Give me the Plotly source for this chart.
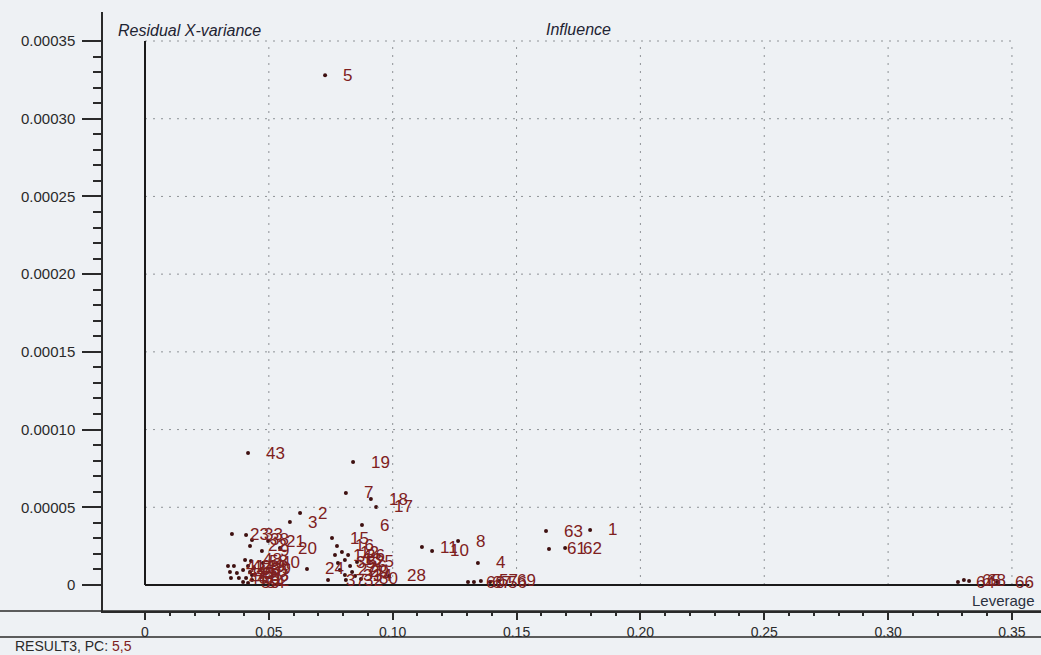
import plotly.graph_objects as go

# Influence plot: leverage vs. residual X-variance per sample (RESULT3, PC 5,5)
samples = ["5", "43", "19", "7", "18", "17", "6", "2", "3", "63", "1", "61", "62",
           "11", "10", "8", "4", "60", "67", "57", "56", "69",
           "24", "37", "32", "30", "28",
           "23", "33", "38", "22", "21", "20", "9", "40",
           "41", "42", "44", "45", "46", "47", "48", "49", "50", "51", "52", "53",
           "54", "55", "58", "59", "39",
           "15", "16", "12", "13", "25", "26", "27", "29", "31", "34", "35", "36", "14",
           "64", "65", "68", "66"]

leverage = [0.0727, 0.0416, 0.0840, 0.0811, 0.0912, 0.0933, 0.0876, 0.0626, 0.0585,
            0.1619, 0.1797, 0.1631, 0.1696,
            0.1118, 0.1159, 0.1264, 0.1344, 0.1304, 0.1328, 0.1356, 0.1393, 0.1429,
            0.0654, 0.0739, 0.0811, 0.0872, 0.0985,
            0.0351, 0.0408, 0.0432, 0.0424, 0.0497, 0.0545, 0.0472, 0.0476,
            0.0335, 0.0359, 0.0343, 0.0371, 0.0347, 0.0379, 0.0404, 0.0416, 0.0424,
            0.0408, 0.0432, 0.0432, 0.0416, 0.0396, 0.0428, 0.0396, 0.0440,
            0.0755, 0.0775, 0.0795, 0.0807, 0.0856, 0.0828, 0.0787, 0.0836, 0.0807,
            0.0848, 0.0779, 0.0820, 0.0767,
            0.3282, 0.3306, 0.3327, 0.3440]

residual_x_var = [0.000328, 0.0000849, 0.0000791, 0.0000592, 0.0000553, 0.0000502,
                  0.0000386, 0.0000463, 0.0000405, 0.0000347, 0.0000354, 0.0000232,
                  0.0000238,
                  0.0000244, 0.0000219, 0.0000283, 0.0000142, 0.0000019, 0.0000019,
                  0.0000026, 0.0000019, 0.0000026,
                  0.0000103, 0.0000032, 0.0000032, 0.0000039, 0.0000058,
                  0.0000328, 0.0000322, 0.0000290, 0.0000251, 0.0000283, 0.0000238,
                  0.0000219, 0.0000142,
                  0.0000122, 0.0000122, 0.0000084, 0.0000077, 0.0000045, 0.0000045,
                  0.0000161, 0.0000122, 0.0000084, 0.0000045, 0.0000032, 0.0000064,
                  0.0000013, 0.0000097, 0.0000154, 0.0000019, 0.0000109,
                  0.0000302, 0.0000251, 0.0000212, 0.0000161, 0.0000148, 0.0000122,
                  0.0000097, 0.0000084, 0.0000064, 0.0000058, 0.0000142, 0.0000193,
                  0.0000193,
                  0.0000019, 0.0000032, 0.0000026, 0.0000019]

x_ticks = [0, 0.05, 0.10, 0.15, 0.20, 0.25, 0.30, 0.35]
x_tick_text = ["0", "0.05", "0.10", "0.15", "0.20", "0.25", "0.30", "0.35"]
y_ticks = [0, 0.00005, 0.00010, 0.00015, 0.00020, 0.00025, 0.00030, 0.00035]
y_tick_text = ["0", "0.00005", "0.00010", "0.00015", "0.00020", "0.00025",
               "0.00030", "0.00035"]

BG = "#eef1f4"
INK = "#2a2a2a"
POINT = "#3e1010"
LABEL = "#7e2020"
FONT = "Liberation Sans, Arial, sans-serif"

W, H = 1041, 655
ML, MR, MT, MB = 103, 0, 12, 44
PW, PH = W - ML - MR, H - MT - MB

x_min, x_max = -0.016956, 0.36173
y_min, y_max = -0.00001673, 0.00036866

x_minor = [round(i * 0.01, 2) for i in range(1, 36) if i % 5]
y_minor = [round(i * 0.00001, 6) for i in range(1, 36) if i % 5]

fig = go.Figure()
fig.add_trace(go.Scatter(
    x=leverage, y=residual_x_var, mode="markers",
    marker=dict(size=4, color=POINT, line=dict(width=0)),
    hoverinfo="skip", showlegend=False,
))

annotations = []
for xv, yv, name in zip(leverage, residual_x_var, samples):
    annotations.append(dict(
        x=xv, y=yv, xref="x", yref="y", text=name, showarrow=False,
        xanchor="left", yanchor="middle", xshift=16,
        font=dict(family=FONT, size=17, color=LABEL),
    ))


def px_x(p):
    return (p - ML) / PW


def px_y(p):
    return (H - MB - p) / PH


annotations += [
    dict(x=px_x(116), y=px_y(31), xref="paper", yref="paper",
         text="<i>Residual X-variance</i>", showarrow=False,
         xanchor="left", yanchor="middle",
         font=dict(family=FONT, size=16, color="#1e2433")),
    dict(x=px_x(578), y=px_y(29), xref="paper", yref="paper",
         text="<i>Influence</i>", showarrow=False,
         xanchor="center", yanchor="middle",
         font=dict(family=FONT, size=16, color="#1e2433")),
    dict(x=px_x(1037), y=px_y(600), xref="paper", yref="paper",
         text="Leverage", showarrow=False,
         xanchor="right", yanchor="middle",
         font=dict(family=FONT, size=15, color="#2a3040")),
    dict(x=px_x(13), y=px_y(646), xref="paper", yref="paper",
         text="RESULT3, PC: <span style='color:%s'>5,5</span>" % LABEL,
         showarrow=False, xanchor="left", yanchor="middle",
         font=dict(family=FONT, size=14, color="#2a2a2a")),
]

shapes = []
# dotted grid inside the 0..0.35 x 0..0.00035 frame
for xv in x_ticks[1:]:
    shapes.append(dict(type="line", xref="x", yref="y", x0=xv, x1=xv,
                       y0=0, y1=y_ticks[-1],
                       line=dict(color="#8e9296", width=1, dash="2px,6px")))
for yv in y_ticks[1:]:
    shapes.append(dict(type="line", xref="x", yref="y", x0=0, x1=x_ticks[-1],
                       y0=yv, y1=yv,
                       line=dict(color="#8e9296", width=1, dash="2px,6px")))
# origin frame
shapes.append(dict(type="line", xref="x", yref="y", x0=0, x1=0,
                   y0=0, y1=y_ticks[-1], line=dict(color="#1a1a1a", width=2)))
shapes.append(dict(type="line", xref="x", yref="y", x0=0, x1=0.357,
                   y0=0, y1=0, line=dict(color="#1a1a1a", width=2)))
# bottom axis line extended across the full width, and the footer rule
shapes.append(dict(type="line", xref="paper", yref="paper", x0=px_x(0), x1=1,
                   y0=0, y1=0, line=dict(color=INK, width=1.5)))
shapes.append(dict(type="line", xref="paper", yref="paper", x0=px_x(0), x1=1,
                   y0=px_y(637), y1=px_y(637), line=dict(color=INK, width=1.5)))

fig.update_layout(
    width=W, height=H,
    margin=dict(l=ML, r=MR, t=MT, b=MB, pad=0),
    paper_bgcolor=BG, plot_bgcolor=BG,
    font=dict(family=FONT, size=15, color=INK),
    showlegend=False,
    annotations=annotations,
    shapes=shapes,
    xaxis=dict(
        range=[x_min, x_max], showgrid=False, zeroline=False,
        showline=True, linecolor=INK, linewidth=1.5,
        ticks="outside", ticklen=7, tickwidth=1.5, tickcolor=INK,
        tickvals=x_ticks, ticktext=x_tick_text,
        tickfont=dict(family=FONT, size=14, color="#2a2a2a"),
        ticklabelstandoff=0,
        minor=dict(tickvals=x_minor, ticks="outside", ticklen=3,
                   tickwidth=1.5, tickcolor=INK, showgrid=False),
        fixedrange=True,
    ),
    yaxis=dict(
        range=[y_min, y_max], showgrid=False, zeroline=False,
        showline=True, linecolor=INK, linewidth=1.5,
        ticks="outside", ticklen=19, tickwidth=1.5, tickcolor=INK,
        tickvals=y_ticks, ticktext=y_tick_text,
        tickfont=dict(family=FONT, size=15, color="#2a2a2a"),
        ticklabelstandoff=4,
        minor=dict(tickvals=y_minor, ticks="outside", ticklen=8,
                   tickwidth=1.5, tickcolor=INK, showgrid=False),
        fixedrange=True,
    ),
)

fig.write_html("out.html", config={"displayModeBar": False})
